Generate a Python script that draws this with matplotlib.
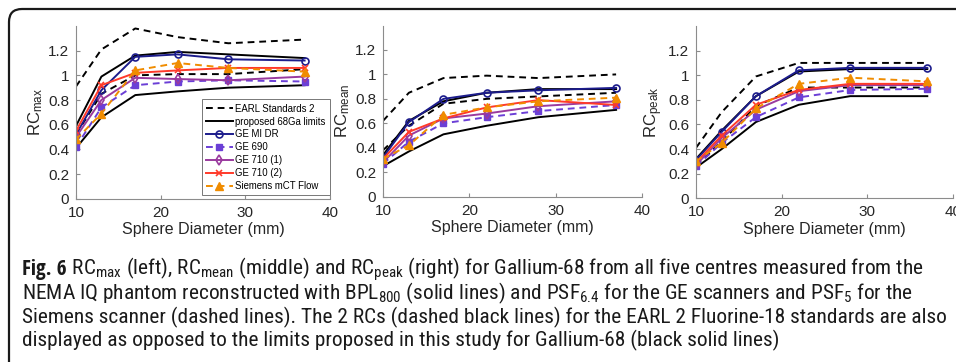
import matplotlib
matplotlib.use("Agg")
import matplotlib.pyplot as plt
from matplotlib import font_manager
from matplotlib.font_manager import FontProperties
from matplotlib.patches import FancyBboxPatch
from matplotlib.transforms import IdentityTransform
from matplotlib.ticker import FuncFormatter

# ---------------- data ----------------
diam = [10, 13, 17, 22, 28, 37]

# RC max
max_earl_hi = [0.91, 1.21, 1.38, 1.31, 1.26, 1.29]
max_earl_lo = [0.52, 0.85, 1.00, 1.01, 1.01, 1.05]
max_lim_hi = [0.59, 0.99, 1.16, 1.19, 1.17, 1.14]
max_lim_lo = [0.41, 0.66, 0.84, 0.87, 0.90, 0.92]
max_midr = [0.52, 0.88, 1.15, 1.17, 1.13, 1.12]
max_690 = [0.42, 0.74, 0.92, 0.95, 0.96, 0.95]
max_710a = [0.50, 0.80, 0.98, 0.97, 0.96, 0.99]
max_710b = [0.55, 0.92, 1.02, 1.04, 1.06, 1.06]
max_mct = [0.48, 0.69, 1.04, 1.10, 1.06, 1.03]

# RC mean
mean_earl_hi = [0.62, 0.85, 0.97, 0.99, 0.97, 1.00]
mean_earl_lo = [0.38, 0.58, 0.76, 0.80, 0.82, 0.85]
mean_lim_hi = [0.34, 0.62, 0.78, 0.85, 0.88, 0.88]
mean_lim_lo = [0.25, 0.37, 0.51, 0.58, 0.65, 0.71]
mean_midr = [0.32, 0.61, 0.80, 0.85, 0.87, 0.89]
mean_690 = [0.27, 0.45, 0.60, 0.65, 0.70, 0.75]
mean_710a = [0.28, 0.50, 0.64, 0.68, 0.74, 0.78]
mean_710b = [0.31, 0.53, 0.64, 0.73, 0.79, 0.75]
mean_mct = [0.31, 0.42, 0.67, 0.73, 0.78, 0.81]

# RC peak
peak_earl_hi = [0.41, 0.70, 0.99, 1.10, 1.10, 1.10]
peak_earl_lo = [0.27, 0.46, 0.75, 0.90, 0.90, 0.90]
peak_lim_hi = [0.32, 0.55, 0.83, 1.03, 1.05, 1.05]
peak_lim_lo = [0.25, 0.40, 0.62, 0.76, 0.83, 0.83]
peak_midr = [0.31, 0.54, 0.83, 1.04, 1.06, 1.06]
peak_690 = [0.26, 0.45, 0.66, 0.82, 0.88, 0.89]
peak_710a = [0.27, 0.49, 0.72, 0.87, 0.92, 0.92]
peak_710b = [0.29, 0.51, 0.76, 0.88, 0.93, 0.93]
peak_mct = [0.30, 0.45, 0.73, 0.93, 0.98, 0.95]

ylabels = ["RC$_{max}$", "RC$_{mean}$", "RC$_{peak}$"]
xlabel = "Sphere Diameter (mm)"
legend_labels = ["EARL Standards 2", "proposed 68Ga limits", "GE MI DR", "GE 690",
                 "GE 710 (1)", "GE 710 (2)", "Siemens mCT Flow"]
xticks = [10, 20, 30, 40]
yticks = [0, 0.2, 0.4, 0.6, 0.8, 1.0, 1.2]

caption_head = "Fig. 6"
caption_lines = [
    r" RC$_{max}$ (left), RC$_{mean}$ (middle) and RC$_{peak}$ (right) for Gallium-68 from all five centres measured from the",
    r"NEMA IQ phantom reconstructed with BPL$_{800}$ (solid lines) and PSF$_{6.4}$ for the GE scanners and PSF$_{5}$ for the",
    r"Siemens scanner (dashed lines). The 2 RCs (dashed black lines) for the EARL 2 Fluorine-18 standards are also",
    r"displayed as opposed to the limits proposed in this study for Gallium-68 (black solid lines)",
]

# ---------------- fonts ----------------
def find_narrow(bold):
    best = None
    for f in font_manager.fontManager.ttflist:
        fn = f.fname.lower()
        nm = f.name.lower()
        if not any(k in fn or k in nm for k in ("condensed", "narrow", "semicondensed")):
            continue
        if "mono" in fn or "serif" in fn.replace("sans-serif", "") and "sans" not in fn:
            continue
        if "italic" in fn or "oblique" in fn:
            continue
        w = f.weight if isinstance(f.weight, int) else (700 if "bold" in str(f.weight) else 400)
        if bold and w < 600:
            continue
        if not bold and (w >= 600 or "light" in fn or "thin" in fn or "black" in fn
                         or "medium" in fn or "extra" in fn or "semi" in fn and "semicondensed" not in fn):
            continue
        score = 0
        if "open" in fn:
            score += 5
        if "noto" in fn:
            score += 4
        if "roboto" in fn:
            score += 3
        if "liberation" in fn:
            score += 2
        if "dejavu" in fn:
            score += 1
        if best is None or score > best[0]:
            best = (score, f.fname)
    return best[1] if best else None

reg_path = find_narrow(False)
bold_path = find_narrow(True)
cap_prop = FontProperties(fname=reg_path) if reg_path else FontProperties(family="Liberation Sans")
cap_bold = FontProperties(fname=bold_path) if bold_path else FontProperties(family="Liberation Sans", weight="bold")

plt.rcParams["font.family"] = ["Liberation Sans", "DejaVu Sans"]
plt.rcParams["mathtext.default"] = "regular"

c_midr = "#1c1c8c"
c_690 = "#6b3fd6"
c_710a = "#9a3a9e"
c_710b = "#ff3a2a"
c_mct = "#f08c00"
spine_c = "#8c8c8c"

W, H = 956, 362
fig = plt.figure(figsize=(W / 100, H / 100), dpi=100)

frame = FancyBboxPatch((9, -40), 1000, 362 - 9 + 40, boxstyle="round,pad=0,rounding_size=13",
                       transform=IdentityTransform(), fill=False, edgecolor="#1a1a1a",
                       linewidth=1.6, clip_on=False)
fig.patches.append(frame)

axes_px = [(76, 330, 26, 198.7), (383, 642, 25.5, 196.7), (696, 953, 26, 198.3)]
sets = [
    (max_earl_hi, max_earl_lo, max_lim_hi, max_lim_lo, max_midr, max_690, max_710a, max_710b, max_mct),
    (mean_earl_hi, mean_earl_lo, mean_lim_hi, mean_lim_lo, mean_midr, mean_690, mean_710a, mean_710b, mean_mct),
    (peak_earl_hi, peak_earl_lo, peak_lim_hi, peak_lim_lo, peak_midr, peak_690, peak_710a, peak_710b, peak_mct),
]

lw = 1.4
dash = (3.5, 2.5)
for i, ((x0, x1, yt, yb), d) in enumerate(zip(axes_px, sets)):
    ax = fig.add_axes([x0 / W, 1 - yb / H, (x1 - x0) / W, (yb - yt) / H])
    eh, el, lh, ll, midr, g690, g710a, g710b, mct = d
    h_earl, = ax.plot(diam, eh, "--", color="black", lw=lw, dashes=dash)
    ax.plot(diam, el, "--", color="black", lw=lw, dashes=dash)
    h_lim, = ax.plot(diam, lh, "-", color="black", lw=lw)
    ax.plot(diam, ll, "-", color="black", lw=lw)
    h1, = ax.plot(diam, midr, "-", color=c_midr, lw=lw, marker="o", ms=5, mfc="none", mew=1.2)
    h2, = ax.plot(diam, g690, "--", color=c_690, lw=lw, marker="s", ms=4.5, mew=1.0, dashes=dash)
    h3, = ax.plot(diam, g710a, "-", color=c_710a, lw=lw, marker="d", ms=5, mfc="none", mew=1.2)
    h4, = ax.plot(diam, g710b, "-", color=c_710b, lw=lw, marker="x", ms=4, mew=1.2)
    h5, = ax.plot(diam, mct, "--", color=c_mct, lw=lw, marker="^", ms=6, mew=1.0, dashes=dash)
    ax.set_xlim(10, 40)
    ax.set_ylim(0, 1.4)
    ax.set_xticks(xticks)
    ax.set_yticks(yticks)
    ax.yaxis.set_major_formatter(FuncFormatter(lambda v, p: "%g" % round(v, 2)))
    for s in ["top", "right"]:
        ax.spines[s].set_visible(False)
    for s in ["left", "bottom"]:
        ax.spines[s].set_color(spine_c)
        ax.spines[s].set_linewidth(0.8)
    ax.tick_params(direction="in", length=3, width=0.8, color=spine_c,
                   labelsize=11, labelcolor="#262626")
    ax.tick_params(axis="x", pad=5)
    ax.tick_params(axis="y", pad=5)
    ax.set_xlabel(xlabel, fontsize=11.5, color="#262626", labelpad=2)
    ax.set_ylabel(ylabels[i], fontsize=12, color="#262626", labelpad=2)
    if i == 0:
        leg = ax.legend([h_earl, h_lim, h1, h2, h3, h4, h5], legend_labels,
                        loc="lower right", bbox_to_anchor=(1.0, 0.02), borderaxespad=0,
                        fontsize=6.9, handlelength=2.8, handletextpad=0.25, labelspacing=0.3,
                        borderpad=0.45, fancybox=False, framealpha=1)
        leg.get_frame().set_edgecolor("#777777")
        leg.get_frame().set_linewidth(0.7)

# caption
baselines = [275, 299, 323, 346]
base_fs = 13.0
head = fig.text(22 / W, 1 - baselines[0] / H, caption_head, fontproperties=cap_bold,
                fontsize=base_fs, color="#1a1a1a", va="baseline", ha="left")
texts = []
for k, (yb, line) in enumerate(zip(baselines, caption_lines)):
    t = fig.text(22 / W, 1 - yb / H, line, fontproperties=cap_prop, fontsize=base_fs,
                 color="#1a1a1a", va="baseline", ha="left")
    texts.append(t)


def layout(fs):
    head.set_fontsize(fs)
    for t in texts:
        t.set_fontsize(fs)
    fig.canvas.draw()
    r = fig.canvas.get_renderer()
    hb = head.get_window_extent(r)
    texts[0].set_x((hb.x1) / W)
    fig.canvas.draw()
    return max(t.get_window_extent(r).x1 for t in texts)


fs = base_fs
for _ in range(3):
    right = layout(fs)
    fs = fs * (947.0 - 22.0) / (right - 22.0)
layout(min(fs, 17.0))

fig.savefig("out.png", dpi=100)
